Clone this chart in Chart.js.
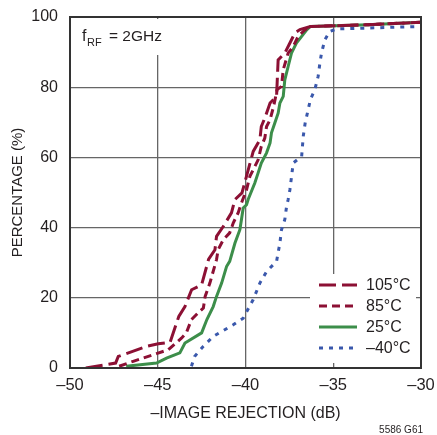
<!DOCTYPE html>
<html>
<head>
<meta charset="utf-8">
<script src="https://cdn.jsdelivr.net/npm/chart.js@4.4.1/dist/chart.umd.min.js"></script>
<style>
  html, body { margin: 0; padding: 0; background: #fff; }
  #wrap { width: 437px; height: 435px; }
</style>
</head>
<body>
<div id="wrap"><canvas id="myChart" width="437" height="435"></canvas></div>
<script>
const FONT = "'Liberation Sans Narrow', 'Liberation Sans', Arial, sans-serif";

const seriesLabels = ['105°C', '85°C', '25°C', '–40°C'];

const x105 = [-49.1, -47.4, -47.25, -45.6, -44.97, -44.3, -43.8, -43.45, -43.07, -42.5, -42.1, -41.74, -41.65, -41.27, -40.8, -40.6, -40.2, -39.56, -39.18, -39.1, -38.9, -38.6, -38.23, -38.14, -37.76, -37.47, -37.19, -36.9, -36.3, -33, -30];
const y105 = [0, 1.4, 3.3, 6.2, 6.9, 7.3, 14.7, 17.5, 22.3, 23.7, 31, 33.7, 37.5, 40.3, 44.2, 48, 49.9, 61.7, 65, 68.8, 71.2, 75.5, 77.4, 87.8, 89.7, 92.6, 95.4, 96.4, 97.3, 97.8, 98.5];

const x85 = [-47.2, -46.4, -45.07, -44.4, -43.65, -43.37, -43.08, -42.7, -42.4, -42.3, -42.03, -41.65, -41.56, -41.27, -40.9, -40.7, -40.42, -40.23, -39.94, -39.75, -39.56, -39.28, -39.1, -38.9, -38.8, -38.6, -38.4, -38.3, -38.2, -37.95, -37.85, -37.57, -37.28, -37.0, -36.6, -36.3, -33, -30];
const y85 = [0.5, 1.9, 4.1, 5.2, 8.5, 10, 13.8, 15.7, 17.1, 20.4, 24.2, 30.9, 33.7, 36.5, 38.5, 41.3, 44.2, 47, 50.8, 54.6, 56.5, 59.3, 63.1, 65.5, 68.8, 70.7, 74.5, 76.9, 79.3, 80.2, 85, 89.7, 91.6, 94.5, 96.4, 97.3, 97.8, 98.5];

const x25 = [-46.8, -45.07, -44.5, -43.74, -43.45, -42.5, -42.2, -41.84, -41.65, -41.36, -41.08, -40.9, -40.6, -40.32, -40.23, -40.13, -39.94, -39.85, -39.47, -39.28, -39.1, -38.8, -38.6, -38.52, -38.33, -38.14, -38.04, -37.85, -37.76, -37.57, -37.38, -37.1, -36.8, -36.5, -36.3, -33, -30];
const y25 = [0.5, 1.4, 2.8, 4.3, 7.1, 10, 13.8, 17.5, 20.4, 24.2, 28.9, 30.4, 35.6, 39.4, 42.3, 45.6, 46.5, 48, 52.7, 55.6, 58.4, 61.3, 64.1, 67, 69.8, 72.6, 75.5, 77.4, 82.1, 85.9, 89.7, 92.6, 94.5, 96.4, 97.3, 97.8, 98.5];

const xm40 = [-43.08, -42.9, -42.4, -41.84, -41.36, -40.7, -40.13, -39.56, -39.18, -38.8, -38.23, -38.04, -37.95, -37.76, -37.66, -37.57, -37.47, -37.28, -36.8, -36.71, -36.6, -36.3, -36.05, -35.86, -35.76, -35.67, -35.48, -35.2, -34.8, -30];
const ym40 = [0.5, 3.3, 6.2, 9, 10.4, 12.3, 14.2, 19.5, 24.2, 27.5, 30.4, 35.6, 39.4, 42.3, 46, 48, 50.8, 58.4, 60.3, 66, 69.8, 76.5, 79.3, 83.1, 86.9, 89.7, 93.5, 95.9, 96.6, 97.3];

const xTicks = [-50, -45, -40, -35, -30];
const yTicks = [0, 20, 40, 60, 80, 100];

const RED = 'rgb(140, 16, 52)';
const GREEN = 'rgb(60, 142, 74)';
const BLUE = 'rgb(58, 88, 172)';
const INK = '#231f20';

function pts(xs, ys) {
    return xs.map((x, i) => ({ x: x, y: ys[i] }));
}

const data = {
    datasets: [
        { label: seriesLabels[0], data: pts(x105, y105), borderColor: RED, borderDash: [17, 6] },
        { label: seriesLabels[1], data: pts(x85, y85), borderColor: RED, borderDash: [8, 5] },
        { label: seriesLabels[2], data: pts(x25, y25), borderColor: GREEN, borderDash: [] },
        { label: seriesLabels[3], data: pts(xm40, ym40), borderColor: BLUE, borderDash: [4, 6] }
    ].map(d => Object.assign(d, { showLine: true, borderWidth: 3, pointRadius: 0, tension: 0, fill: false }))
};

// frame, the f_RF note and the legend box
const extras = {
    id: 'extras',
    afterDatasetsDraw(chart) {
        const ctx = chart.ctx;
        const a = chart.chartArea;
        ctx.save();

        // note box top-left
        ctx.fillStyle = '#fff';
        ctx.fillRect(a.left + 2, a.top + 2, 96, 36);
        ctx.fillStyle = INK;
        ctx.textBaseline = 'alphabetic';
        ctx.textAlign = 'left';
        ctx.font = '16px ' + FONT;
        ctx.fillText('f', 82, 41);
        ctx.font = '11px ' + FONT;
        ctx.fillText('RF', 87, 46);
        ctx.font = '15.5px ' + FONT;
        ctx.fillText('= 2GHz', 109, 41);

        // legend box bottom-right
        ctx.fillStyle = '#fff';
        ctx.fillRect(310, 274, 106, 89);
        const rowY = [285, 306, 327, 348];
        chart.data.datasets.forEach((ds, i) => {
            ctx.strokeStyle = ds.borderColor;
            ctx.lineWidth = 3;
            ctx.setLineDash(ds.borderDash);
            ctx.beginPath();
            ctx.moveTo(319, rowY[i]);
            ctx.lineTo(357, rowY[i]);
            ctx.stroke();
            ctx.setLineDash([]);
            ctx.fillStyle = INK;
            ctx.font = '16px ' + FONT;
            ctx.textBaseline = 'middle';
            ctx.fillText(ds.label, 366, rowY[i] + 1);
        });

        // plot frame
        ctx.strokeStyle = '#333';
        ctx.lineWidth = 2;
        ctx.strokeRect(a.left, a.top, a.right - a.left, a.bottom - a.top);

        // figure id
        ctx.fillStyle = INK;
        ctx.font = '10px ' + FONT;
        ctx.textAlign = 'right';
        ctx.textBaseline = 'middle';
        ctx.fillText('5586 G61', 423, 430);
        ctx.restore();
    }
};

const config = {
    type: 'scatter',
    data: data,
    options: {
        responsive: false,
        animation: false,
        layout: { padding: { top: 17, right: 16, left: 0, bottom: 0 } },
        plugins: {
            legend: { display: false },
            tooltip: { enabled: false }
        },
        scales: {
            x: {
                type: 'linear',
                min: -50,
                max: -30,
                afterFit: s => { s.height = 67; s.paddingLeft = 0; s.paddingRight = 0; },
                afterBuildTicks: s => { s.ticks = xTicks.map(v => ({ value: v })); },
                ticks: {
                    color: INK,
                    font: { family: FONT, size: 16.5 },
                    padding: 8,
                    callback: v => String(v).replace('-', '–')
                },
                grid: { color: '#666', lineWidth: 1.3, drawTicks: false },
                border: { display: false },
                title: {
                    display: true,
                    text: '–IMAGE REJECTION (dB)',
                    color: INK,
                    font: { family: FONT, size: 16 },
                    padding: { top: 0, bottom: 12 }
                }
            },
            y: {
                min: 0,
                max: 100,
                afterFit: s => { s.width = 70; s.paddingTop = 0; s.paddingBottom = 0; },
                afterBuildTicks: s => { s.ticks = yTicks.map(v => ({ value: v })); },
                ticks: {
                    color: INK,
                    font: { family: FONT, size: 16 },
                    padding: 12
                },
                grid: { color: '#666', lineWidth: 1.3, drawTicks: false },
                border: { display: false },
                title: {
                    display: true,
                    text: 'PERCENTAGE (%)',
                    color: INK,
                    font: { family: FONT, size: 15 },
                    padding: { top: 9, bottom: 0 }
                }
            }
        }
    },
    plugins: [extras]
};

const myChart = new Chart(document.getElementById('myChart'), config);
</script>
</body>
</html>
